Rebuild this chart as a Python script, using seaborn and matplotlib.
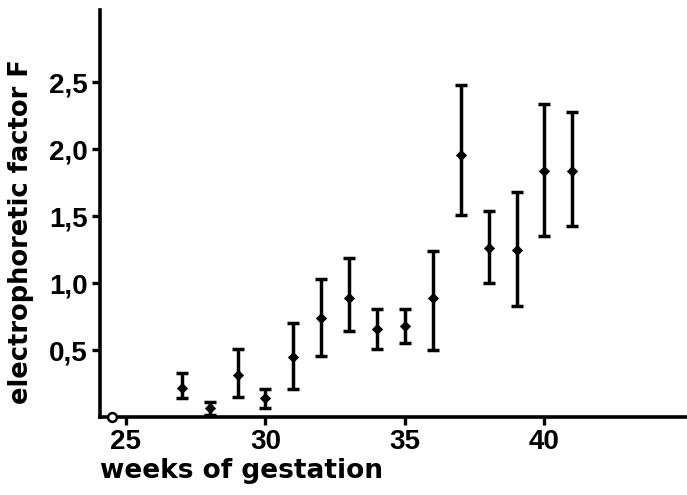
import numpy as np
import pandas as pd
import seaborn as sns
import matplotlib.pyplot as plt

# weeks of gestation and mean F with lower/upper limits
weeks = [27, 28, 29, 30, 31, 32, 33, 34, 35, 36, 37, 38, 39, 40, 41]
mean_f = [0.22, 0.07, 0.31, 0.14, 0.45, 0.74, 0.89, 0.66, 0.68, 0.89, 1.96, 1.26, 1.25, 1.84, 1.84]
low_f = [0.14, 0.015, 0.15, 0.07, 0.21, 0.455, 0.64, 0.51, 0.55, 0.50, 1.51, 1.00, 0.83, 1.35, 1.43]
high_f = [0.33, 0.11, 0.51, 0.21, 0.70, 1.03, 1.19, 0.81, 0.81, 1.24, 2.48, 1.54, 1.68, 2.34, 2.28]
zero_week = [24.5]
zero_f = [0.0]

xticks = [25, 30, 35, 40]
yticks = [0.5, 1.0, 1.5, 2.0, 2.5]
ytick_labels = ["0,5", "1,0", "1,5", "2,0", "2,5"]

df = pd.DataFrame({"week": weeks, "F": mean_f, "low": low_f, "high": high_f})

sns.set_style("ticks")
plt.rcParams['font.family'] = ['Liberation Sans', 'DejaVu Sans']
plt.rcParams['text.color'] = 'black'
plt.rcParams['axes.labelcolor'] = 'black'
plt.rcParams['xtick.color'] = 'black'
plt.rcParams['ytick.color'] = 'black'

fig = plt.figure(figsize=(6.87, 4.95), dpi=100)
ax = fig.add_axes([0.1456, 0.1576, 0.854, 0.822])

yerr = np.vstack([df["F"] - df["low"], df["high"] - df["F"]])
ax.errorbar(df["week"], df["F"], yerr=yerr, fmt="none", ecolor="black",
            elinewidth=2.5, capsize=4.5, capthick=2.5)
sns.scatterplot(data=df, x="week", y="F", color="black", s=28, marker="D",
                ax=ax, edgecolor="black", zorder=3)
ax.scatter(zero_week, zero_f, s=40, facecolor="white", edgecolor="black",
           linewidth=1.8, clip_on=False, zorder=4)

ax.set_xlim(24.07, 45.1)
ax.set_ylim(0, 3.04)
ax.set_xticks(xticks)
ax.set_xticklabels([str(t) for t in xticks], fontsize=20, fontweight="bold")
ax.set_yticks(yticks)
ax.set_yticklabels(ytick_labels, fontsize=20, fontweight="bold")
ax.tick_params(axis="both", direction="out", length=6, width=2.4, pad=3)

for side in ["top", "right"]:
    ax.spines[side].set_visible(False)
for side in ["left", "bottom"]:
    ax.spines[side].set_linewidth(2.6)
    ax.spines[side].set_color("black")

ax.set_xlabel("weeks of gestation", fontsize=19, fontweight="bold",
              loc="left", labelpad=2, family="DejaVu Sans")
ax.set_ylabel("electrophoretic factor F", fontsize=18.5, fontweight="bold",
              family="DejaVu Sans")
ax.yaxis.set_label_coords(-0.112, 0.455)

fig.savefig("out.png", dpi=100)
